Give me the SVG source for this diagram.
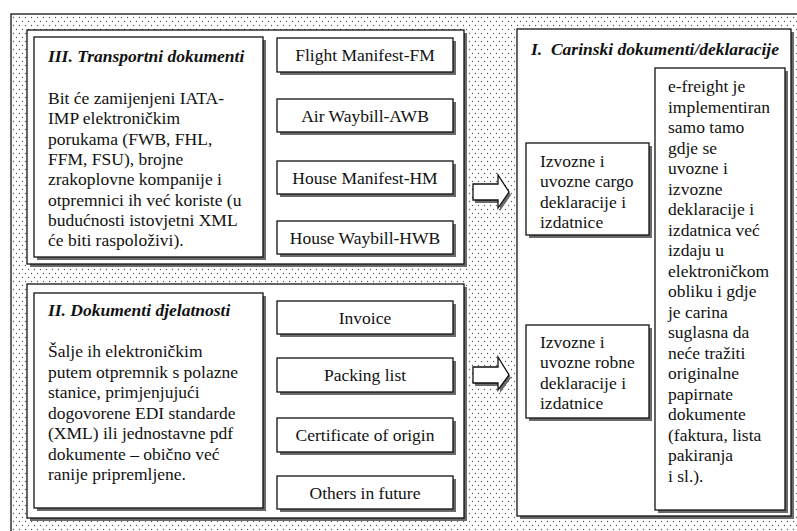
<svg xmlns="http://www.w3.org/2000/svg" width="797" height="531" viewBox="0 0 797 531">
<defs>
<pattern id="dots" x="0" y="0" width="6" height="8" patternUnits="userSpaceOnUse">
<circle cx="1.5" cy="1.5" r="0.65" fill="#555"/>
<circle cx="4.5" cy="5.5" r="0.65" fill="#555"/>
</pattern>
<style>
.sh{fill:#6a6a6a;}
.bx{fill:#fff;stroke:#111;stroke-width:1.3;}
text{font-family:'Liberation Serif','Times New Roman',Tinos,'DejaVu Serif',serif;font-size:17.5px;fill:#111;}
.h{font-weight:bold;font-style:italic;}
.c{text-anchor:middle;}
</style>
</defs>
<rect width="797" height="531" fill="#fff"/>
<rect x="11" y="14" width="800" height="530" fill="url(#dots)" stroke="#333" stroke-width="1.5"/>

<g font-family="Liberation Serif, Times New Roman, serif" font-size="17.5">
<g id="panel-III">
<rect class="sh" x="30" y="33" width="437" height="234"/>
<rect class="bx" x="27" y="30" width="437" height="234"/>
</g>
<g id="transport-text">
<rect class="sh" x="37" y="40" width="229" height="220"/>
<rect class="bx" x="34" y="37" width="229" height="220"/>
<text class="h" x="48" y="62">III. Transportni dokumenti</text>
<text x="48" y="104">Bit će zamijenjeni IATA-</text>
<text x="48" y="124.3">IMP elektroničkim</text>
<text x="48" y="144.6">porukama (FWB, FHL,</text>
<text x="48" y="164.9">FFM, FSU), brojne</text>
<text x="48" y="185.2">zrakoplovne kompanije i</text>
<text x="48" y="205.5">otpremnici ih već koriste (u</text>
<text x="48" y="225.8">budućnosti istovjetni XML</text>
<text x="48" y="246.1">će biti raspoloživi).</text>
</g>
<g id="fm">
<rect class="sh" x="280" y="41" width="176" height="34"/>
<rect class="bx" x="277" y="38" width="176" height="34"/>
<text class="c" x="365" y="61">Flight Manifest-FM</text>
</g>
<g id="awb">
<rect class="sh" x="280" y="102" width="176" height="33"/>
<rect class="bx" x="277" y="99" width="176" height="33"/>
<text class="c" x="365" y="121.5">Air Waybill-AWB</text>
</g>
<g id="hm">
<rect class="sh" x="280" y="164" width="176" height="33"/>
<rect class="bx" x="277" y="161" width="176" height="33"/>
<text class="c" x="365" y="183.5">House Manifest-HM</text>
</g>
<g id="hwb">
<rect class="sh" x="280" y="224" width="176" height="33"/>
<rect class="bx" x="277" y="221" width="176" height="33"/>
<text class="c" x="365" y="243.5">House Waybill-HWB</text>
</g>

<g id="panel-II">
<rect class="sh" x="30" y="287" width="437" height="234"/>
<rect class="bx" x="27" y="284" width="437" height="234"/>
</g>
<g id="business-text">
<rect class="sh" x="37" y="296" width="229" height="215"/>
<rect class="bx" x="34" y="293" width="229" height="215"/>
<text class="h" x="48" y="316">II. Dokumenti djelatnosti</text>
<text x="48" y="357">Šalje ih elektroničkim</text>
<text x="48" y="377.5">putem otpremnik s polazne</text>
<text x="48" y="398">stanice, primjenjujući</text>
<text x="48" y="418.5">dogovorene EDI standarde</text>
<text x="48" y="439">(XML) ili jednostavne pdf</text>
<text x="48" y="459.5">dokumente – obično već</text>
<text x="48" y="480">ranije pripremljene.</text>
</g>
<g id="invoice">
<rect class="sh" x="280" y="304" width="176" height="33"/>
<rect class="bx" x="277" y="301" width="176" height="33"/>
<text class="c" x="365" y="323.5">Invoice</text>
</g>
<g id="packing">
<rect class="sh" x="280" y="361" width="176" height="34"/>
<rect class="bx" x="277" y="358" width="176" height="34"/>
<text class="c" x="365" y="381">Packing list</text>
</g>
<g id="certificate">
<rect class="sh" x="280" y="421" width="176" height="34"/>
<rect class="bx" x="277" y="418" width="176" height="34"/>
<text class="c" x="365" y="441">Certificate of origin</text>
</g>
<g id="others">
<rect class="sh" x="280" y="479" width="176" height="33"/>
<rect class="bx" x="277" y="476" width="176" height="33"/>
<text class="c" x="365" y="498.5">Others in future</text>
</g>

<g id="panel-I">
<rect class="sh" x="520" y="32" width="274" height="487"/>
<rect class="bx" x="517" y="29" width="274" height="487"/>
<text class="h" x="531" y="55" xml:space="preserve">I.  Carinski dokumenti/deklaracije</text>
</g>
<g id="cargo">
<rect class="sh" x="529" y="146" width="123" height="92"/>
<rect class="bx" x="526" y="143" width="123" height="92"/>
<text x="540" y="167">Izvozne i</text>
<text x="540" y="187.3">uvozne cargo</text>
<text x="540" y="207.6">deklaracije i</text>
<text x="540" y="227.9">izdatnice</text>
</g>
<g id="robne">
<rect class="sh" x="529" y="328" width="123" height="93"/>
<rect class="bx" x="526" y="325" width="123" height="93"/>
<text x="540" y="348">Izvozne i</text>
<text x="540" y="368.3">uvozne robne</text>
<text x="540" y="388.6">deklaracije i</text>
<text x="540" y="408.9">izdatnice</text>
</g>
<g id="efreight">
<rect class="sh" x="658" y="71" width="130" height="442"/>
<rect class="bx" x="655" y="68" width="130" height="442"/>
<text x="668" y="92">e-freight je</text>
<text x="668" y="112.5">implementiran</text>
<text x="668" y="133">samo tamo</text>
<text x="668" y="153.5">gdje se</text>
<text x="668" y="174">uvozne i</text>
<text x="668" y="194.5">izvozne</text>
<text x="668" y="215">deklaracije i</text>
<text x="668" y="235.5">izdatnica već</text>
<text x="668" y="256">izdaju u</text>
<text x="668" y="276.5">elektroničkom</text>
<text x="668" y="297">obliku i gdje</text>
<text x="668" y="317.5">je carina</text>
<text x="668" y="338">suglasna da</text>
<text x="668" y="358.5">neće tražiti</text>
<text x="668" y="379">originalne</text>
<text x="668" y="399.5">papirnate</text>
<text x="668" y="420">dokumente</text>
<text x="668" y="440.5">(faktura, lista</text>
<text x="668" y="461">pakiranja</text>
<text x="668" y="481.5">i sl.).</text>
</g>
</g>

<g id="connectors">
<path d="M475,187 H500 V178 L511,195 L500,211 V203 H475 Z" fill="#6a6a6a"/>
<path d="M473,184 H498 V175 L509,192 L498,208 V200 H473 Z" fill="#fff" stroke="#111" stroke-width="1.3"/>
<path d="M475,370 H500 V360 L511,378 L500,393 V386 H475 Z" fill="#6a6a6a"/>
<path d="M473,367 H498 V357 L509,375 L498,390 V383 H473 Z" fill="#fff" stroke="#111" stroke-width="1.3"/>
</g>
</svg>
